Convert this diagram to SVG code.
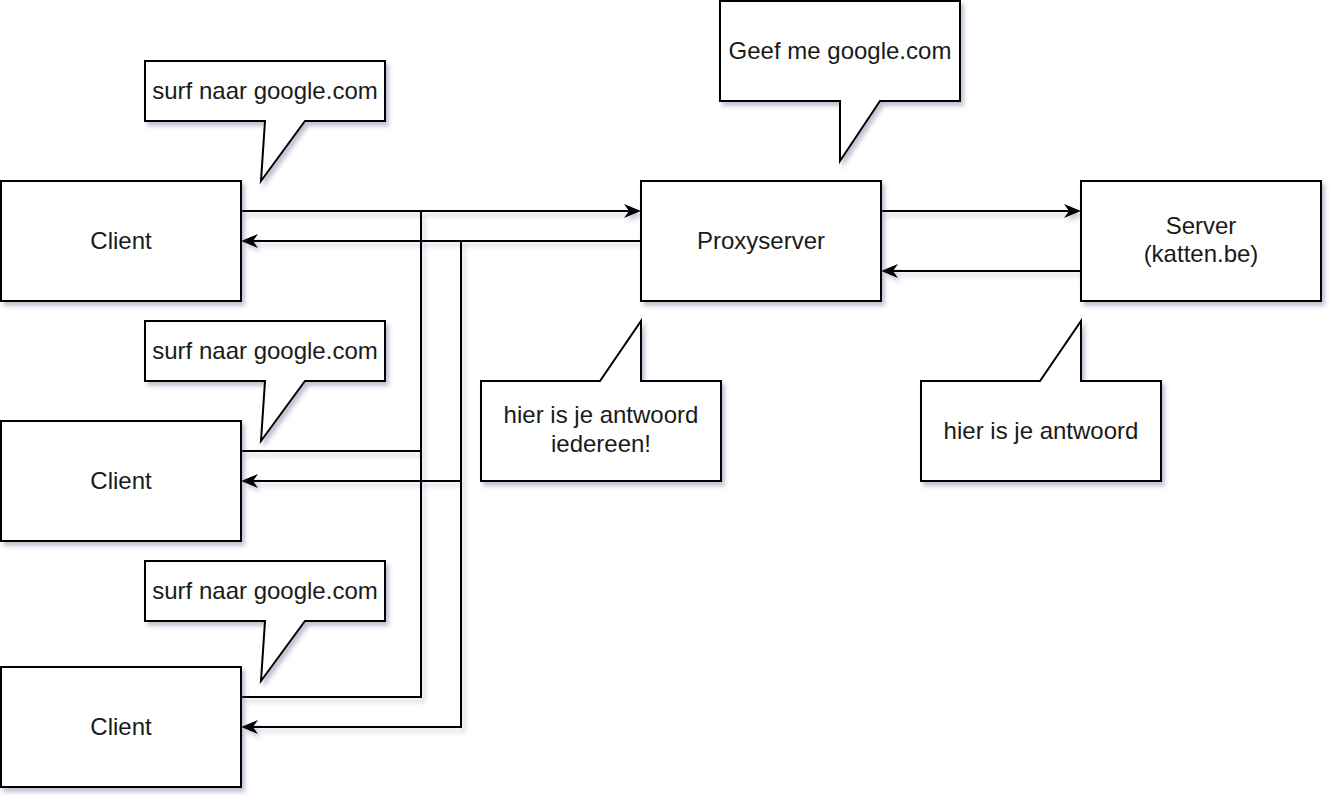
<svg xmlns="http://www.w3.org/2000/svg" width="1344" height="810" viewBox="0 0 1344 810">
  <style>
    .box { fill: #ffffff; stroke: #000000; stroke-width: 2; filter: url(#shadow); }
    .lbl { font-family: "Liberation Sans", Arial, sans-serif; font-size: 24px; fill: #1a1a1a; text-anchor: middle; }
    .conn { fill: none; stroke: #000000; stroke-width: 2; }
  </style>
  <defs>
    <filter id="shadow" x="-10%" y="-10%" width="130%" height="140%">
      <feDropShadow dx="3" dy="4" stdDeviation="2" flood-color="#4a5080" flood-opacity="0.35"/>
    </filter>
    <filter id="cshadow" filterUnits="userSpaceOnUse" x="0" y="0" width="1344" height="810">
      <feDropShadow dx="3" dy="4" stdDeviation="2" flood-color="#4a5080" flood-opacity="0.3"/>
    </filter>
    <marker id="arr" markerWidth="17" markerHeight="14" refX="15" refY="7" orient="auto" markerUnits="userSpaceOnUse">
      <path d="M0,0 L17,7 L0,14 L5,7 Z" fill="#000000"/>
    </marker>
  </defs>
  <rect width="1344" height="810" fill="#ffffff"/>

  <g id="connectors" filter="url(#cshadow)">
    <path class="conn" d="M241,211 H639" marker-end="url(#arr)"/>
    <path class="conn" d="M641,241 H243" marker-end="url(#arr)"/>
    <path class="conn" d="M241,451 H421 V211"/>
    <path class="conn" d="M241,697 H421 V451"/>
    <path class="conn" d="M461,241 V481 H243" marker-end="url(#arr)"/>
    <path class="conn" d="M461,481 V727 H243" marker-end="url(#arr)"/>
    <path class="conn" d="M881,211 H1079" marker-end="url(#arr)"/>
    <path class="conn" d="M1081,271 H883" marker-end="url(#arr)"/>
  </g>

  <g id="client1">
    <rect class="box" x="1" y="181" width="240" height="120"/>
    <text class="lbl" x="121" y="249">Client</text>
  </g>
  <g id="client2">
    <rect class="box" x="1" y="421" width="240" height="120"/>
    <text class="lbl" x="121" y="489">Client</text>
  </g>
  <g id="client3">
    <rect class="box" x="1" y="667" width="240" height="120"/>
    <text class="lbl" x="121" y="735">Client</text>
  </g>
  <g id="proxy">
    <rect class="box" x="641" y="181" width="240" height="120"/>
    <text class="lbl" x="761" y="249">Proxyserver</text>
  </g>
  <g id="server">
    <rect class="box" x="1081" y="181" width="240" height="120"/>
    <text class="lbl" x="1201" y="234">Server</text>
    <text class="lbl" x="1201" y="262">(katten.be)</text>
  </g>

  <g id="callout1">
    <path class="box" d="M145,61 H385 V121 H305 L261,181 L265,121 H145 Z"/>
    <text class="lbl" x="265" y="99">surf naar google.com</text>
  </g>
  <g id="callout2">
    <path class="box" d="M145,321 H385 V381 H305 L261,441 L265,381 H145 Z"/>
    <text class="lbl" x="265" y="359">surf naar google.com</text>
  </g>
  <g id="callout3">
    <path class="box" d="M145,561 H385 V621 H305 L261,681 L265,621 H145 Z"/>
    <text class="lbl" x="265" y="599">surf naar google.com</text>
  </g>
  <g id="callout-proxy">
    <path class="box" d="M720,1 H960 V101 H880 L840,161 V101 H720 Z"/>
    <text class="lbl" x="840" y="59">Geef me google.com</text>
  </g>
  <g id="callout-answer-all">
    <path class="box" d="M481,381 H600 L641,321 V381 H721 V481 H481 Z"/>
    <text class="lbl" x="601" y="423">hier is je antwoord</text>
    <text class="lbl" x="601" y="452">iedereen!</text>
  </g>
  <g id="callout-answer">
    <path class="box" d="M921,381 H1040 L1081,321 V381 H1161 V481 H921 Z"/>
    <text class="lbl" x="1041" y="439">hier is je antwoord</text>
  </g>
</svg>
